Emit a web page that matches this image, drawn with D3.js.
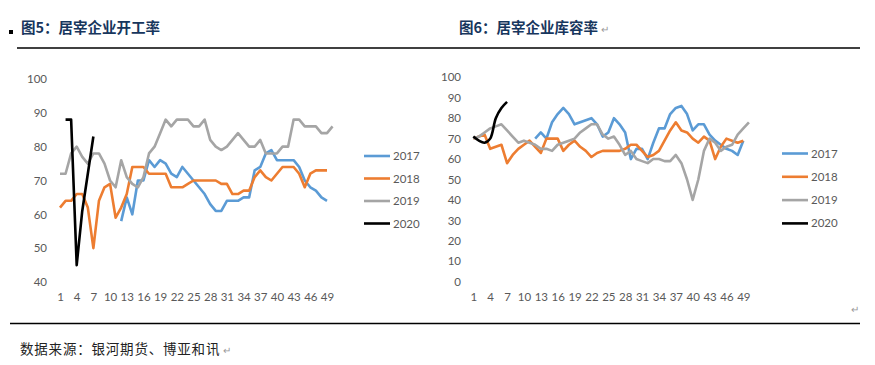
<!DOCTYPE html>
<html><head><meta charset="utf-8">
<script src="https://cdn.jsdelivr.net/npm/d3@7/dist/d3.min.js"></script>
<style>
body{margin:0;background:#fff;}
svg{display:block;}
</style></head>
<body><svg id="c" width="875" height="365"></svg>
<script>
// ---------- data ----------
const tickLabels = [1,4,7,10,13,16,19,22,25,28,31,34,37,40,43,46,49];
const seriesNames = ["2017","2018","2019","2020"];
const colors = ["#5B9BD5","#ED7D31","#A5A5A5","#000000"];

// 图5 开工率 (week 1..50)
const op2017 = [null,null,null,null,null,null,null,null,null,null,null,58,65,60,70,70,76,74,76,75,72,71,74,72,70,68,66,63,61,61,64,64,64,65,65,73,74,78,79,76,76,76,76,74,70,68,67,65,64];
const op2018 = [62,64,64,66,66,62,50,64,68,69,59,62,66,74,74,74,72,72,72,72,68,68,68,69,70,70,70,70,70,69,69,66,66,67,67,71,73,71,70,72,74,74,74,72,68,72,73,73,73];
const op2019 = [72,72,78,80,77,75,78,78,75,70,68,76,71,69,68,71,78,80,84,88,86,88,88,88,86,86,88,82,80,79,80,82,84,82,80,80,82,78,78,78,80,80,88,88,86,86,86,84,84,86];
const op2020 = [null,88,88,45,61,72,83];
const opTicks = [40,50,60,70,80,90,100];

// 图6 库容率 (week 1..50)
const cap2017 = [null,null,null,null,null,null,null,null,null,null,null,70,73,70,78,82,85,82,77,78,79,80,77,71,73,80,77,73,60,65,65,60,68,75,75,82,85,86,82,74,77,77,72,69,67,65,64,62,69];
const cap2018 = [70,71,72,65,66,67,58,62,65,67,69,66,63,70,70,70,64,67,69,66,64,61,63,64,64,64,64,65,67,67,64,61,62,64,69,74,78,74,73,70,68,71,69,60,66,70,69,68,69];
const cap2019 = [70,71,73,75,76,77,74,71,68,69,68,67,65,65,64,67,68,69,70,73,75,77,77,72,70,71,67,62,64,60,59,58,60,60,59,59,62,58,50,40,50,64,70,68,64,66,67,72,75,78];
const cap2020 = [71,69,68,70,80,85,88];
const capTicks = [0,10,20,30,40,50,60,70,80,90,100];

// ---------- drawing ----------
const svg = d3.select("#c");
const FONT = "Lato, 'Open Sans', sans-serif";
const LABEL = "#595959";

function chart(cfg){
  const x = d3.scaleLinear().domain([1,49]).range([cfg.x0, cfg.x1]);
  const y = d3.scaleLinear().domain(cfg.yDomain).range([cfg.yBottom, cfg.yTop]);
  const g = svg.append("g");
  const ya = d3.axisLeft(y).tickValues(cfg.yTicks).tickSize(0).tickPadding(0);
  const yg = g.append("g").attr("transform",`translate(${cfg.yLabelX},0)`).call(ya);
  yg.select(".domain").remove();
  yg.selectAll("text").attr("font-family",FONT).attr("font-size",11.5).attr("fill",LABEL);
  const xa = d3.axisBottom(x).tickValues(tickLabels).tickSize(0).tickPadding(0).tickFormat(d3.format("d"));
  const xg = g.append("g").attr("transform",`translate(0,${cfg.xLabelY})`).call(xa);
  xg.select(".domain").remove();
  xg.selectAll("text").attr("font-family",FONT).attr("font-size",11.5).attr("fill",LABEL);
  cfg.series.forEach((s,i)=>{
    const line = d3.line().defined(d=>d!=null).x((d,j)=>x(j+1)).y(d=>y(d))
      .curve(cfg.smooth && cfg.smooth[i] ? d3.curveCatmullRom.alpha(0.5) : d3.curveLinear);
    g.append("path").datum(s).attr("d",line).attr("fill","none")
      .attr("stroke",colors[i]).attr("stroke-width",2.6).attr("stroke-linejoin","round");
  });
  const lg = g.append("g");
  seriesNames.forEach((n,i)=>{
    const yy = cfg.legY + i*cfg.legStep;
    lg.append("line").attr("x1",cfg.legX).attr("x2",cfg.legX+26).attr("y1",yy).attr("y2",yy)
      .attr("stroke",colors[i]).attr("stroke-width",2.6);
    lg.append("text").attr("x",cfg.legX+29).attr("y",yy).attr("dy","0.35em")
      .attr("font-family",FONT).attr("font-size",11.5).attr("fill",LABEL).text(n);
  });
}

chart({x0:60,x1:327,yDomain:[40,100],yTop:79,yBottom:282,yTicks:opTicks,yLabelX:47,xLabelY:293,
  series:[op2017,op2018,op2019,op2020],legX:364,legY:156,legStep:22.5});
chart({x0:473.3,x1:743.3,yDomain:[0,100],yTop:77.3,yBottom:281.7,yTicks:capTicks,yLabelX:461,xLabelY:293,
  series:[cap2017,cap2018,cap2019,cap2020],smooth:[false,false,false,true],legX:782,legY:153.5,legStep:23.3});

// titles & decorations
svg.append("rect").attr("x",9).attr("y",30).attr("width",4).attr("height",4).attr("fill","#000");
svg.append("text").attr("x",21).attr("y",33).attr("font-family","'Noto Sans CJK SC', sans-serif")
  .attr("font-weight","bold").attr("font-size",14.5).attr("fill","#17365D").text("图5：居宰企业开工率");
svg.append("text").attr("x",459).attr("y",33).attr("font-family","'Noto Sans CJK SC', sans-serif")
  .attr("font-weight","bold").attr("font-size",14.5).attr("fill","#17365D").text("图6：居宰企业库容率");
svg.append("text").attr("x",601).attr("y",33).attr("font-family",FONT).attr("font-size",10).attr("fill","#999").text("↵");
svg.append("line").attr("x1",17).attr("x2",860).attr("y1",48).attr("y2",48).attr("stroke","#000").attr("stroke-width",1.3);
svg.append("text").attr("x",851).attr("y",313).attr("font-family",FONT).attr("font-size",10).attr("fill","#999").text("↵");
svg.append("line").attr("x1",10).attr("x2",860).attr("y1",323.5).attr("y2",323.5).attr("stroke","#000").attr("stroke-width",1.3);
svg.append("text").attr("x",20).attr("y",354).attr("font-family","'Noto Sans CJK SC', sans-serif")
  .attr("font-size",13.5).attr("letter-spacing",0.8).attr("fill","#222").text("数据来源：银河期货、博亚和讯");
svg.append("text").attr("x",223).attr("y",354).attr("font-family",FONT).attr("font-size",10).attr("fill","#999").text("↵");
</script></body></html>
